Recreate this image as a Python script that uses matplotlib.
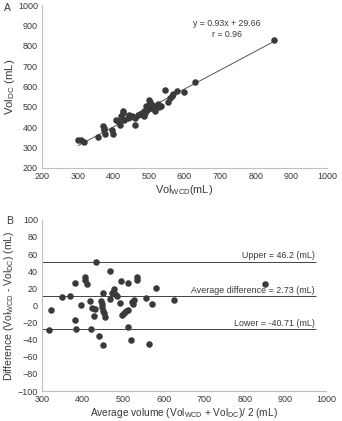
import matplotlib
matplotlib.use('Agg')
import matplotlib.pyplot as plt
import numpy as np

plt.rcParams['font.family'] = ['Liberation Sans', 'DejaVu Sans']
plt.rcParams['mathtext.default'] = 'regular'

# ─── Data ───────────────────────────────────────────────────────────────────
# Panel A: correlation, Vol_WCD vs Vol_DC (mL)
vol_wcd = [302, 308, 318, 356, 372, 375, 378, 374, 397, 398, 408, 412, 419,
           421, 426, 428, 431, 440, 445, 448, 452, 462, 462, 468, 475, 477,
           482, 487, 490, 492, 494, 485, 498, 500, 502, 502, 505, 508, 510,
           516, 520, 525, 528, 533, 545, 555, 560, 565, 569, 580, 599, 630,
           850]
vol_dc = [339, 335, 328, 350, 404, 388, 367, 396, 388, 367, 437, 430, 412,
          453, 478, 470, 437, 445, 461, 448, 455, 409, 445, 460, 465, 465,
          470, 478, 470, 502, 485, 455, 490, 535, 519, 525, 494, 510, 500,
          481, 505, 513, 500, 502, 584, 523, 543, 555, 563, 576, 572, 621,
          830]
slope, intercept, r_value = 0.93, 29.66, 0.96

# Panel B: Bland-Altman
avg_vol = [318, 321, 349, 370, 380, 380, 384, 396, 405, 407, 410, 419, 422,
           421, 427, 431, 434, 441, 445, 447, 448, 451, 452, 455, 451, 451,
           468, 468, 472, 478, 480, 484, 493, 494, 497, 503, 508, 512, 512,
           512, 520, 522, 525, 526, 533, 534, 557, 564, 572, 582, 625, 849]
diff_vol = [-29, -5, 10, 11, 26, -17, -28, 0, 33, 30, 25, 5, -3, -27, -12,
            -4, 51, -36, 5, 2, -2, -6, -9, -13, -46, 15, 40, 8, 14, 19, 13,
            11, 3, 28, -11, -9, -7, -5, 26, -25, -40, 4, 2, 6, 33, 30, 9,
            -45, 2, 20, 6, 25]
# where the limit lines sit on the picture, and their printed labels
limit_pos = [51, 11, -28]
limit_labels = ['Upper = 46.2 (mL)', 'Average difference = 2.73 (mL)',
                'Lower = -40.71 (mL)']

# ─── Figure ─────────────────────────────────────────────────────────────────
text_c = '#383838'
dot_c = '#3a3a3a'
spine_c = '#bfbfbf'

fig = plt.figure(figsize=(3.42, 4.21), dpi=100)
ax_a = fig.add_axes([0.123, 0.601, 0.833, 0.387])
ax_b = fig.add_axes([0.123, 0.071, 0.830, 0.407])

for ax in (ax_a, ax_b):
    for s in ('top', 'right'):
        ax.spines[s].set_visible(False)
    for s in ('left', 'bottom'):
        ax.spines[s].set_color(spine_c)
        ax.spines[s].set_linewidth(0.8)
    ax.tick_params(length=0, labelsize=6.5, colors=text_c, pad=3)

# Panel A
ax_a.scatter(vol_wcd, vol_dc, s=22, color=dot_c, zorder=3, linewidths=0)
xf = np.array([min(vol_wcd), max(vol_wcd)])
ax_a.plot(xf, slope * xf + intercept, color='#555555', lw=0.7, zorder=2)
ax_a.set_xlim(200, 1000)
ax_a.set_ylim(200, 1000)
ax_a.set_xticks(range(200, 1001, 100))
ax_a.set_yticks(range(200, 1001, 100))
ax_a.set_xlabel('Vol$_{WCD}$(mL)', fontsize=7.8, color=text_c, labelpad=1)
ax_a.set_ylabel('Vol$_{DC}$ (mL)', fontsize=8.2, color=text_c, labelpad=1)
ax_a.text(720, 907, f'y = {slope}x + {intercept}', ha='center', va='center',
          fontsize=6.3, color=text_c)
ax_a.text(718, 853, f'r = {r_value}', ha='center', va='center',
          fontsize=6.3, color=text_c)
fig.text(0.012, 0.982, 'A', fontsize=7.5, color=text_c, va='center')

# Panel B
ax_b.scatter(avg_vol, diff_vol, s=22, color=dot_c, zorder=3, linewidths=0)
for yv, lab in zip(limit_pos, limit_labels):
    ax_b.hlines(yv, 300, 975, color='#444444', lw=0.7, zorder=2)
    ax_b.text(972, yv + 1.5, lab, ha='right', va='bottom', fontsize=6.4,
              color=text_c)
ax_b.set_xlim(300, 1000)
ax_b.set_ylim(-100, 100)
ax_b.set_xticks(range(300, 1001, 100))
ax_b.set_yticks(range(-100, 101, 20))
ax_b.set_xlabel('Average volume (Vol$_{WCD}$ + Vol$_{DC}$)/ 2 (mL)',
                fontsize=7.3, color=text_c, labelpad=1)
ax_b.set_ylabel('Difference (Vol$_{WCD}$ - Vol$_{DC}$) (mL)', fontsize=7.5,
                color=text_c, labelpad=1)
fig.text(0.018, 0.474, 'B', fontsize=7.5, color=text_c, va='center')

fig.savefig('out.png', dpi=100)
